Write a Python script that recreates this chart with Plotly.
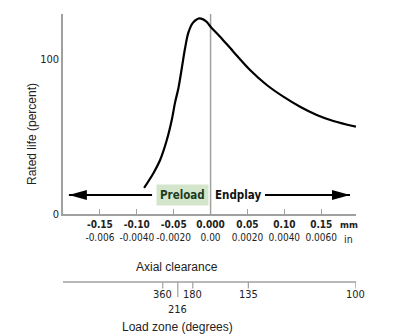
import plotly.graph_objects as go

# Rated bearing life versus axial clearance
clearance_mm = [-0.0901, -0.0775, -0.0684, -0.0593, -0.0526, -0.0481, -0.0436, -0.0390,
                -0.0346, -0.0301, -0.0240, -0.0150, -0.0060, 0.0000, 0.0129,
                0.0309, 0.0535, 0.0762, 0.0986, 0.1213, 0.1439, 0.1664, 0.1970]
rated_life = [16.8, 26.3, 34.8, 47.7, 60.6, 72.0, 81.1, 94.0,
              106.9, 117.0, 123.3, 126.2, 124.3, 120.8, 114.4,
              104.7, 92.9, 83.2, 75.7, 69.2, 63.9, 60.0, 56.3]

# Axis ticks: millimetres (bold row) and inches (second row)
tick_mm = [-0.15, -0.10, -0.05, 0.0, 0.05, 0.10, 0.15]
tick_mm_text = ["-0.15", "-0.10", "-0.05", "0.000", "0.05", "0.10", "0.15"]
tick_in_text = ["-0.006", "-0.0040", "-0.0020", "0.00", "0.0020", "0.0040", "0.0060"]
y_ticks = [0, 100]

# Load zone scale (degrees) placed at the matching clearance
load_zone_deg = ["360", "216", "180", "135", "100"]
load_zone_mm = [-0.0648, -0.0444, -0.0241, 0.0512, 0.1970]

# Preload / endplay arrows (tail, tip) in mm, at a rated-life height
arrow_level = 12.3
preload_arrow = (-0.0793, -0.1920)
endplay_arrow = (0.0738, 0.1890)

X_RANGE = [-0.2, 0.1971]
Y_RANGE = [0, 129]

NARROW = "DejaVu Sans Condensed, Liberation Sans Narrow, sans-serif"
REGULAR = "Liberation Sans, Arial, sans-serif"
GRAY = "#a0a0a0"
TEXT = "#222"

fig = go.Figure()

fig.add_trace(go.Scatter(
    x=clearance_mm, y=rated_life, mode="lines",
    line=dict(color="black", width=2.2, shape="spline", smoothing=0.9),
    hoverinfo="skip", showlegend=False,
))

# arrow shafts
for tail, tip in (preload_arrow, endplay_arrow):
    fig.add_trace(go.Scatter(
        x=[tail, tip], y=[arrow_level, arrow_level], mode="lines",
        line=dict(color="black", width=2), hoverinfo="skip", showlegend=False,
    ))

shapes = []
# arrowheads, sized in pixels and anchored at the tips
for tail, tip in (preload_arrow, endplay_arrow):
    d = 1 if tip > tail else -1
    shapes.append(dict(
        type="path", xref="x", yref="y", xsizemode="pixel", ysizemode="pixel",
        xanchor=tip, yanchor=arrow_level,
        path=f"M0,0 L{-18*d},5 L{-18*d},-5 Z",
        fillcolor="black", line=dict(width=0),
    ))

# zero-clearance divider
shapes.append(dict(type="line", xref="x", yref="paper", x0=0, x1=0, y0=0, y1=1,
                   line=dict(color=GRAY, width=1.5), layer="below"))

# load zone scale below the chart
LZ_Y = -0.34
shapes.append(dict(type="line", xref="paper", yref="paper", x0=0, x1=1, y0=LZ_Y, y1=LZ_Y,
                   line=dict(color=GRAY, width=1.5)))
for deg, xv in zip(load_zone_deg, load_zone_mm):
    y_end = LZ_Y - (0.075 if deg == "216" else 0.032)
    shapes.append(dict(type="line", xref="x", yref="paper", x0=xv, x1=xv, y0=LZ_Y, y1=y_end,
                       line=dict(color=GRAY, width=1.2)))

annotations = []
for deg, xv in zip(load_zone_deg, load_zone_mm):
    annotations.append(dict(
        x=xv, y=(-0.475 if deg == "216" else -0.40), xref="x", yref="paper",
        text=deg, showarrow=False, font=dict(family=NARROW, size=11, color=TEXT),
        xanchor="center", yanchor="middle",
    ))

annotations += [
    dict(x=-0.0375, y=arrow_level, xref="x", yref="y", text="<b>Preload</b>", showarrow=False,
         font=dict(family=NARROW, size=11.5, color="#1d3b1d"), bgcolor="#d3e6cc",
         borderpad=3, xanchor="center", yanchor="middle"),
    dict(x=0.0369, y=arrow_level, xref="x", yref="y", text="<b>Endplay</b>", showarrow=False,
         font=dict(family=NARROW, size=11.5, color="#111"), xanchor="center", yanchor="middle"),
    dict(x=0.1870, y=-0.05, xref="x", yref="paper", text="<b>mm</b>", showarrow=False,
         font=dict(family=NARROW, size=9.5, color=TEXT), xanchor="center", yanchor="middle"),
    dict(x=0.1870, y=-0.125, xref="x", yref="paper", text="in", showarrow=False,
         font=dict(family=NARROW, size=10.5, color=TEXT), xanchor="center", yanchor="middle"),
    dict(x=-0.045, y=-0.265, xref="x", yref="paper", text="Axial clearance", showarrow=False,
         font=dict(family=REGULAR, size=12, color=TEXT), xanchor="center", yanchor="middle"),
    dict(x=-0.045, y=-0.565, xref="x", yref="paper", text="Load zone (degrees)", showarrow=False,
         font=dict(family=REGULAR, size=12, color=TEXT), xanchor="center", yanchor="middle"),
    dict(x=0, y=0.40, xref="paper", yref="paper", xshift=-31, text="Rated life (percent)",
         showarrow=False, textangle=-90, font=dict(family=REGULAR, size=12, color=TEXT),
         xanchor="center", yanchor="middle"),
]

tick_text = [f"<b>{m}</b><br><span style='font-size:10px'>{i}</span>"
             for m, i in zip(tick_mm_text, tick_in_text)]

fig.update_layout(
    width=395, height=336,
    margin=dict(l=63, r=39, t=14, b=122),
    paper_bgcolor="white", plot_bgcolor="white",
    shapes=shapes, annotations=annotations,
    xaxis=dict(range=X_RANGE, tickvals=tick_mm, ticktext=tick_text, tickangle=0,
               ticks="inside", ticklen=5, tickcolor=GRAY, tickwidth=1.2,
               showline=True, linecolor=GRAY, linewidth=1.5, showgrid=False, zeroline=False,
               tickfont=dict(family=NARROW, size=10, color=TEXT), fixedrange=True),
    yaxis=dict(range=Y_RANGE, tickvals=y_ticks, ticks="", showline=True, linecolor=GRAY,
               linewidth=1.5, showgrid=False, zeroline=False,
               tickfont=dict(family=NARROW, size=11, color=TEXT), fixedrange=True),
)

fig.write_html("out.html")
